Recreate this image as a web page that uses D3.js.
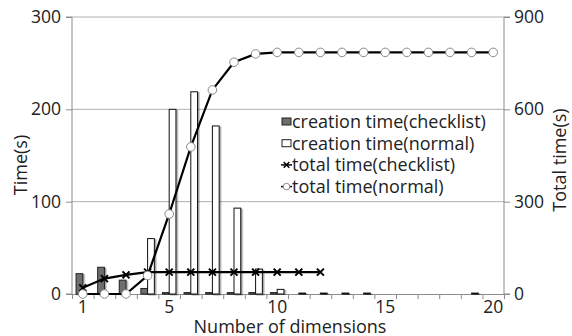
<!DOCTYPE html>
<html><head><meta charset="utf-8">
<script src="https://cdn.jsdelivr.net/npm/d3@7"></script>
<style>
body{margin:0;background:#fff;}
svg{display:block;font-family:"Open Sans",sans-serif;}
</style></head><body>
<svg id="c" width="572" height="336"></svg>
<script>
const dims = d3.range(1, 21);
const checklistCreation = [22, 29, 15, 6, 1.5, 1.5, 1.5, 1.5, 1.5, 1.5, 0, 0, 0, 0, 0, 0, 0, 0, 0, 0];
const normalCreation = [0, 0, 0, 60, 200, 219, 182, 93, 27, 5, 1, 1, 1, 1, 0, 0, 0, 0, 1, 0];
const totalChecklist = [20, 50, 62, 71, 71, 71, 71, 71, 71, 71, 71, 71];
const totalNormal = [0, 0, 0, 60, 260, 478, 663, 753, 780, 785, 785, 785, 785, 785, 785, 785, 785, 785, 785, 785];
const leftTicks = [0, 100, 200, 300];
const rightTicks = [0, 300, 600, 900];
const xTickLabels = [1, 5, 10, 15, 20];
const legendLabels = ["creation time(checklist)", "creation time(normal)", "total time(checklist)", "total time(normal)"];

const svg = d3.select("#c");
const L = 72, R = 504, T = 17, B = 294;
const x = d3.scaleBand().domain(dims).range([L, R]);
const xb = d3.scaleLinear().domain([0.5, 20.5]).range([L, R]);
const xs = d3.scaleBand().domain(["c", "n"]).range([0, x.bandwidth()]).paddingOuter(0.6);
const yL = d3.scaleLinear().domain([0, 300]).range([B, T]);
const yR = d3.scaleLinear().domain([0, 900]).range([B, T]);

const defs = svg.append("defs");
const f = defs.append("filter").attr("id", "sh").attr("x", "-50%").attr("y", "-10%").attr("width", "200%").attr("height", "120%");
f.append("feDropShadow").attr("dx", 1.5).attr("dy", 1).attr("stdDeviation", 0.7).attr("flood-color", "#000").attr("flood-opacity", 0.35);

// gridlines
svg.append("g").selectAll("line").data(leftTicks.filter(d => d > 0)).join("line")
  .attr("x1", L).attr("x2", R).attr("y1", d => yL(d)).attr("y2", d => yL(d))
  .attr("stroke", "#b0b0b0").attr("stroke-width", 1);

// axes
const axL = svg.append("g").attr("transform", `translate(${L},0)`)
  .call(d3.axisLeft(yL).tickValues(leftTicks).tickSize(6).tickPadding(5));
const axR = svg.append("g").attr("transform", `translate(${R},0)`)
  .call(d3.axisRight(yR).tickValues(rightTicks).tickSize(6).tickPadding(4));
const axBt = svg.append("g").attr("transform", `translate(0,${B})`)
  .call(d3.axisBottom(xb).tickValues(d3.range(0.5, 21, 1)).tickSize(5).tickFormat(""));
const axBl = svg.append("g").attr("transform", `translate(0,${B})`)
  .call(d3.axisBottom(x).tickValues(xTickLabels).tickSize(0).tickPadding(7));
axBl.select(".domain").remove();
[axL, axR, axBt, axBl].forEach(a => {
  a.selectAll(".domain").attr("stroke", "#8c8c8c");
  a.selectAll(".tick line").attr("stroke", "#8c8c8c");
  a.selectAll("text").attr("font-size", 17.5).attr("fill", "#222").attr("font-family", "Open Sans");
});
axL.selectAll(".domain").attr("d", `M-6,${B}H0V${T}H-6`);
axR.selectAll(".domain").attr("d", `M6,${B}H0V${T}H6`);

// bars
const bars = svg.append("g");
bars.selectAll("rect.c").data(dims).join("rect").attr("class", "c")
  .attr("x", d => x(d) + xs("c")).attr("width", xs.bandwidth())
  .attr("y", (d, i) => yL(checklistCreation[i])).attr("height", (d, i) => B - yL(checklistCreation[i]))
  .attr("fill", "#6e6e6e").attr("stroke", "#222").attr("stroke-width", 1)
  .attr("filter", "url(#sh)")
  .attr("display", (d, i) => checklistCreation[i] > 0 ? null : "none");
bars.selectAll("rect.n").data(dims).join("rect").attr("class", "n")
  .attr("x", d => x(d) + xs("n")).attr("width", xs.bandwidth())
  .attr("y", (d, i) => yL(normalCreation[i])).attr("height", (d, i) => B - yL(normalCreation[i]))
  .attr("fill", "#fff").attr("stroke", "#111").attr("stroke-width", 1)
  .attr("filter", "url(#sh)")
  .attr("display", (d, i) => normalCreation[i] > 0 ? null : "none");

// lines
const cx = (d, i) => x(dims[i]) + x.bandwidth() / 2;
const lineC = d3.line().x(cx).y(d => yR(d));
svg.append("path").datum(totalChecklist).attr("d", lineC)
  .attr("fill", "none").attr("stroke", "#000").attr("stroke-width", 2.2);
const crossPath = "M-3.5,-3.5L3.5,3.5M-3.5,3.5L3.5,-3.5";
svg.append("g").selectAll("path").data(totalChecklist).join("path")
  .attr("transform", (d, i) => `translate(${cx(d, i)},${yR(d)})`)
  .attr("d", crossPath).attr("stroke", "#000").attr("stroke-width", 2);

svg.append("path").datum(totalNormal).attr("d", lineC)
  .attr("fill", "none").attr("stroke", "#000").attr("stroke-width", 2.2);
svg.append("g").selectAll("circle").data(totalNormal).join("circle")
  .attr("cx", cx).attr("cy", d => yR(d)).attr("r", 4.3)
  .attr("fill", "#fff").attr("stroke", "#8a8a8a").attr("stroke-width", 1);

// legend
const lg = svg.append("g").attr("transform", "translate(282,0)");
const ly = [121.5, 143.2, 164.9, 186.6];
lg.append("rect").attr("x", 0).attr("y", ly[0] - 3.5).attr("width", 9).attr("height", 7)
  .attr("fill", "#6e6e6e").attr("stroke", "#222");
lg.append("rect").attr("x", 0).attr("y", ly[1] - 3.5).attr("width", 9).attr("height", 7)
  .attr("fill", "#fff").attr("stroke", "#222");
lg.append("line").attr("x1", -1).attr("x2", 10).attr("y1", ly[2]).attr("y2", ly[2]).attr("stroke", "#000").attr("stroke-width", 1.5);
lg.append("path").attr("transform", `translate(4.5,${ly[2]}) scale(0.8)`).attr("d", crossPath).attr("stroke", "#000").attr("stroke-width", 1.8);
lg.append("line").attr("x1", -1).attr("x2", 10).attr("y1", ly[3]).attr("y2", ly[3]).attr("stroke", "#000").attr("stroke-width", 1.5);
lg.append("circle").attr("cx", 4.5).attr("cy", ly[3]).attr("r", 3.3).attr("fill", "#fff").attr("stroke", "#888");
lg.selectAll("text").data(legendLabels).join("text")
  .attr("x", 10).attr("y", (d, i) => ly[i]).attr("dy", "0.35em")
  .attr("font-size", 18).attr("fill", "#222").text(d => d);

// axis titles
svg.append("text").attr("transform", "translate(27,165) rotate(-90)").attr("text-anchor", "middle")
  .attr("font-size", 18).attr("fill", "#222").text("Time(s)");
svg.append("text").attr("transform", "translate(566,160) rotate(-90)").attr("text-anchor", "middle")
  .attr("font-size", 18).attr("fill", "#222").text("Total time(s)");
svg.append("text").attr("x", 290).attr("y", 333).attr("text-anchor", "middle")
  .attr("font-size", 18).attr("fill", "#222").text("Number of dimensions");
</script></body></html>
